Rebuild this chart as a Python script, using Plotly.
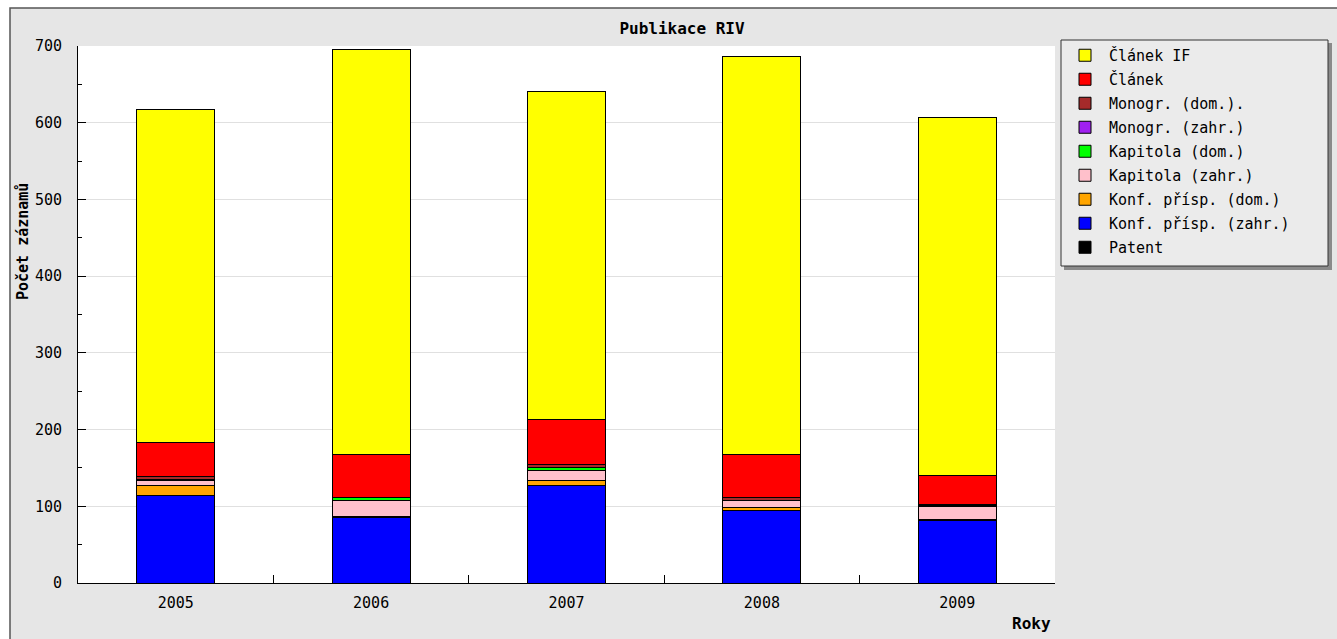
"""Publikace RIV - stacked bar chart recreated with Plotly."""

import plotly.graph_objects as go

# ── Data ────────────────────────────────────────────────────────────────────
YEARS = ["2005", "2006", "2007", "2008", "2009"]

PATENT = [0, 0, 0, 0, 0]
KONF_ZAHR = [114, 85, 127, 94, 81]
KONF_DOM = [13, 2, 7, 5, 2]
KAPITOLA_ZAHR = [7, 21, 13, 8, 17]
KAPITOLA_DOM = [1, 3, 4, 0, 0]
MONOGR_ZAHR = [0, 0, 0, 0, 1]
MONOGR_DOM = [4, 1, 4, 5, 1]
CLANEK = [44, 56, 58, 55, 38]
CLANEK_IF = [434, 528, 428, 519, 467]

# bottom of the stack first
SERIES = [
    ("Patent", PATENT, "#000000"),
    ("Konf. přísp. (zahr.)", KONF_ZAHR, "#0000ff"),
    ("Konf. přísp. (dom.)", KONF_DOM, "#ffa500"),
    ("Kapitola (zahr.)", KAPITOLA_ZAHR, "#ffc0cb"),
    ("Kapitola (dom.)", KAPITOLA_DOM, "#00ff00"),
    ("Monogr. (zahr.)", MONOGR_ZAHR, "#a020f0"),
    ("Monogr. (dom.).", MONOGR_DOM, "#a52a2a"),
    ("Článek", CLANEK, "#ff0000"),
    ("Článek IF", CLANEK_IF, "#ffff00"),
]

# ── Layout constants (pixels) ──────────────────────────────────────────────
W, H = 1337, 639
L, R, T, B = 78, 1055, 46, 583
FONT = "DejaVu Sans Mono"
FRAME_BG = "#e6e6e6"
LEGEND_BG = "#ebebeb"


def px_x(p: float) -> float:
    return (p - L) / (R - L)


def px_y(p: float) -> float:
    return (B - p) / (B - T)


def rect(x0, y0, x1, y1, fill, line=None, layer="below"):
    return {
        "type": "rect",
        "xref": "paper",
        "yref": "paper",
        "x0": px_x(x0),
        "x1": px_x(x1),
        "y0": px_y(y1),
        "y1": px_y(y0),
        "fillcolor": fill,
        "line": line or {"width": 0},
        "layer": layer,
    }


fig = go.Figure()
for i, (name, vals, color) in enumerate(SERIES):
    fig.add_trace(
        go.Bar(
            x=YEARS,
            y=vals,
            name=name,
            legendgroup=f"g{i}",
            legendrank=len(SERIES) - i,
            marker={"color": color, "line": {"color": "#000000", "width": 1}},
            width=0.4,
        )
    )

fig.update_layout(
    width=W,
    height=H,
    barmode="stack",
    paper_bgcolor="#ffffff",
    plot_bgcolor="rgba(0,0,0,0)",
    margin={"l": L, "r": W - R, "t": T, "b": H - B},
    font={"family": FONT, "size": 14, "color": "#000000"},
    title={
        "text": "<b>Publikace RIV</b>",
        "x": px_x(682),
        "xanchor": "center",
        "xref": "paper",
        "y": 1 - 28 / H,
        "yanchor": "middle",
        "font": {"family": FONT, "size": 16},
    },
    legend={
        "x": px_x(1061),
        "y": px_y(39),
        "xanchor": "left",
        "yanchor": "top",
        "traceorder": "grouped",
        "tracegroupgap": 1.5,
        "bgcolor": "rgba(0,0,0,0)",
        "borderwidth": 0,
        "font": {"family": FONT, "size": 15},
        "itemwidth": 38,
    },
    xaxis={
        "type": "category",
        "showline": True,
        "linecolor": "#000000",
        "linewidth": 1,
        "ticks": "inside",
        "tickson": "boundaries",
        "ticklen": 8,
        "tickcolor": "#000000",
        "showgrid": False,
        "tickfont": {"family": FONT, "size": 15},
        "ticklabelstandoff": 6,
    },
    yaxis={
        "range": [0, 700],
        "dtick": 100,
        "showline": True,
        "linecolor": "#000000",
        "linewidth": 1,
        "ticks": "inside",
        "ticklen": 8,
        "tickcolor": "#000000",
        "showgrid": True,
        "gridcolor": "#e0e0e0",
        "zeroline": False,
        "minor": {"dtick": 50, "ticks": "inside", "ticklen": 4, "tickcolor": "#000000", "showgrid": False},
        "tickfont": {"family": FONT, "size": 15},
        "ticklabelstandoff": 12,
    },
    shapes=[
        # grey frame and white plotting area
        rect(10, 8, W + 5, H + 5, FRAME_BG, {"color": "#555555", "width": 1.5}),
        rect(L, T, R, B, "#ffffff"),
        # legend box with drop shadow
        rect(1064, 43, 1332, 270, "#8a8a8a", layer="above"),
        rect(1061, 40, 1328, 266, LEGEND_BG, {"color": "#333333", "width": 1}, layer="above"),
    ],
    annotations=[
        {
            "text": "<b>Počet záznamů</b>",
            "xref": "paper",
            "yref": "paper",
            "x": px_x(23),
            "y": px_y(242),
            "xanchor": "center",
            "yanchor": "middle",
            "textangle": -90,
            "showarrow": False,
            "font": {"family": FONT, "size": 15},
        },
        {
            "text": "<b>Roky</b>",
            "xref": "paper",
            "yref": "paper",
            "x": px_x(1053),
            "y": px_y(623),
            "xanchor": "right",
            "yanchor": "middle",
            "showarrow": False,
            "font": {"family": FONT, "size": 16},
        },
    ],
)

fig.write_html(
    "out.html",
    config={"displayModeBar": False},
    post_script="document.body.style.margin='0';",
)
